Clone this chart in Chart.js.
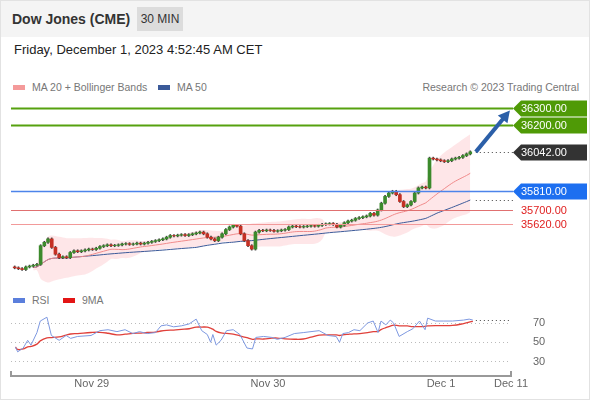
<!DOCTYPE html>
<html>
<head>
<meta charset="utf-8">
<script src="https://cdn.jsdelivr.net/npm/chart.js@4"></script>
<style>
  body { margin: 0; font-family: Arial, "Liberation Sans", sans-serif; }
  #wrap { position: relative; width: 588px; height: 398px; border: 1px solid #e2e2e2; background: #fff; overflow: hidden; }
  #head { position: absolute; left: 0; top: 0; width: 100%; height: 36px; background: #f4f4f4; }
  #title { position: absolute; left: 11px; top: 10px; font-weight: bold; font-size: 14px; color: #333; }
  #tf { position: absolute; left: 136px; top: 6px; width: 46px; height: 24px; line-height: 24px; text-align: center; background: #dcdcdc; font-size: 12px; color: #333; }
  #date { position: absolute; left: 13px; top: 41px; font-size: 13px; color: #222; }
  .leg { position: absolute; font-size: 10.5px; color: #777; }
  .sw { display: inline-block; width: 12px; height: 5px; margin-right: 7px; vertical-align: 1px; }
  canvas { position: absolute; left: 0; }
</style>
</head>
<body>
<div id="wrap">
  <div id="head"><div id="title">Dow Jones (CME)</div><div id="tf">30 MIN</div></div>
  <div id="date">Friday, December 1, 2023 4:52:45 AM CET</div>
  <div class="leg" style="left:12px;top:80px"><span class="sw" style="background:#f49a9a"></span>MA 20 + Bollinger Bands</div>
  <div class="leg" style="left:157px;top:80px"><span class="sw" style="background:#3b5a99"></span>MA 50</div>
  <div class="leg" style="right:10px;top:80px">Research © 2023 Trading Central</div>
  <div class="leg" style="left:12px;top:293px"><span class="sw" style="background:#5b7fdc"></span>RSI</div>
  <div class="leg" style="left:62px;top:293px"><span class="sw" style="background:#e31515"></span>9MA</div>
  <div style="position:absolute;left:0;top:90px;width:590px;height:195px"><canvas id="priceChart"></canvas></div>
  <div style="position:absolute;left:0;top:285px;width:590px;height:115px"><canvas id="rsiChart"></canvas></div>
</div>
<script>
const closes = [35360,35355,35350,35365,35370,35375,35380,35490,35510,35530,35480,35440,35420,35425,35420,35450,
  35460,35455,35460,35465,35470,35468,35475,35485,35490,35495,35490,35492,35495,35500,35502,35498,35500,35505,
  35500,35505,35510,35515,35520,35525,35530,35540,35550,35548,35552,35555,35550,35555,35560,35565,35570,35560,
  35540,35530,35520,35540,35560,35585,35600,35610,35605,35560,35520,35490,35470,35570,35580,35578,35582,35580,
  35575,35578,35582,35585,35600,35605,35602,35600,35603,35605,35608,35605,35610,35615,35618,35620,35615,35600,
  35610,35625,35635,35640,35650,35655,35660,35665,35680,35670,35700,35740,35780,35800,35810,35790,35750,35720,
  35730,35750,35800,35830,35835,35830,36005,36000,35995,35990,35985,35990,36000,36005,36010,36020,36030,36042];
const firstOpen = 35365;
const rsiX = [0.2,0.8,2.3,3.5,4.4,6,6.9,8.7,9.9,12,13.9,15.1,17,20.6,23,25.2,27.6,29.8,31.9,33.7,35.8,38,39.5,41,
  42.9,45,47.1,49,50.5,52,52.9,53.5,54.4,55.7,57.2,59,60.8,62.7,64.2,65.1,67.2,69.4,70.9,73,75.5,77.9,80,82.2,
  84.6,86.8,87.7,88.6,90.1,91.6,93.2,95.3,96.8,98.1,98.9,100.2,101.4,102.3,103.8,106,107.5,109.3,110.8,111.5,
  113.6,115.7,118.2,121.2,122.7,123.7];
const rsiValues = [45,40,44,52,47,60,72,76,57,52,57,54,56,57,62,63,61,63,59,61,59,60,67,68,66,67,69,74,62,58,50,
  58,47,52,62,63,58,44,43,55,56,55,53,55,59,60,61,62,57,56,50,59,60,63,62,70,72,60,72,68,73,70,56,61,64,72,63,
  75,72,72,72,73,74,73];
const rsiGrid = [30, 50, 70];
const levels = [
  { v: 36300, color: '#56a10f', box: '#4f9a06', w: 2 },
  { v: 36200, color: '#56a10f', box: '#4f9a06', w: 2 },
  { v: 36042, color: null, box: '#333333' },
  { v: 35810, color: '#4d84ea', box: '#1d6ff0', w: 1.5 },
  { v: 35700, color: '#e07070', box: null, w: 1 },
  { v: 35620, color: '#f29a9a', box: null, w: 1 },
];
const xTicks = [
  { v: 20.8, label: 'Nov 29' },
  { v: 68.4, label: 'Nov 30' },
  { v: 115.1, label: 'Dec 1' },
  { v: 134, label: 'Dec 11' },
];
const X_MIN = -1, X_MAX = 134;

// candles from closes: open is the previous close
const opens = closes.map((c, i) => i === 0 ? firstOpen : closes[i - 1]);
const bodies = closes.map((c, i) => ({ x: i, y: [opens[i], c === opens[i] ? c + 1.5 : c] }));
const wicks = closes.map((c, i) => ({ x: i, y: [Math.min(opens[i], c) - 6, Math.max(opens[i], c) + 6] }));
const candleColors = closes.map((c, i) => c >= opens[i] ? '#3c8a2c' : '#c43024');

function movingAvg(arr, n) {
  return arr.map((v, i) => {
    const s = arr.slice(Math.max(0, i - n + 1), i + 1);
    return s.reduce((a, b) => a + b, 0) / s.length;
  });
}
const ma20 = movingAvg(closes, 20);
const ma50 = movingAvg(closes, 50);
const sd20 = closes.map((v, i) => {
  const s = closes.slice(Math.max(0, i - 19), i + 1);
  const m = ma20[i];
  return Math.sqrt(s.reduce((a, b) => a + (b - m) * (b - m), 0) / s.length);
});
const startBand = 5;
const pts = arr => arr.map((v, i) => ({ x: i, y: v })).slice(startBand);
const upper = pts(ma20.map((m, i) => m + 2 * sd20[i]));
const lower = pts(ma20.map((m, i) => m - 2 * sd20[i]));
const rsiMa = movingAvg(rsiValues, 9);

const overlay = {
  id: 'overlay',
  afterDatasetsDraw(chart) {
    const { ctx, chartArea: a, scales: { x, y } } = chart;
    ctx.save();
    levels.forEach(l => {
      const py = Math.round(y.getPixelForValue(l.v)) + 0.5;
      if (l.color) {
        ctx.strokeStyle = l.color; ctx.lineWidth = l.w;
        ctx.beginPath(); ctx.moveTo(a.left, py); ctx.lineTo(a.right + 2, py); ctx.stroke();
      }
      ctx.font = '11px Arial';
      ctx.textBaseline = 'middle';
      if (l.box) {
        const bx = a.right + 2;
        ctx.fillStyle = l.box;
        ctx.beginPath();
        ctx.moveTo(bx, py); ctx.lineTo(bx + 8, py - 8); ctx.lineTo(586, py - 8);
        ctx.lineTo(586, py + 8); ctx.lineTo(bx + 8, py + 8); ctx.closePath(); ctx.fill();
        ctx.fillStyle = '#fff';
      } else {
        ctx.fillStyle = '#e02020';
      }
      ctx.fillText(l.v.toFixed(2), a.right + 10, py + 0.5);
    });
    // dotted leaders from last close and last MA50
    ctx.strokeStyle = '#444'; ctx.lineWidth = 1; ctx.setLineDash([1, 3]);
    [closes[closes.length - 1], ma50[ma50.length - 1]].forEach(v => {
      const py = Math.round(y.getPixelForValue(v)) + 0.5;
      ctx.beginPath(); ctx.moveTo(x.getPixelForValue(closes.length + 0.5), py); ctx.lineTo(a.right + 2, py); ctx.stroke();
    });
    ctx.setLineDash([]);
    // forecast arrow
    const x0 = x.getPixelForValue(closes.length + 0.5), y0 = y.getPixelForValue(36042);
    const x1 = x.getPixelForValue(X_MAX - 0.3), y1 = y.getPixelForValue(36285);
    const ang = Math.atan2(y1 - y0, x1 - x0);
    ctx.strokeStyle = '#2b5fa8'; ctx.fillStyle = '#2b5fa8'; ctx.lineWidth = 4;
    ctx.beginPath(); ctx.moveTo(x0, y0);
    ctx.lineTo(x1 - 8 * Math.cos(ang), y1 - 8 * Math.sin(ang)); ctx.stroke();
    ctx.beginPath(); ctx.moveTo(x1, y1);
    ctx.lineTo(x1 - 13 * Math.cos(ang - 0.5), y1 - 13 * Math.sin(ang - 0.5));
    ctx.lineTo(x1 - 13 * Math.cos(ang + 0.5), y1 - 13 * Math.sin(ang + 0.5));
    ctx.closePath(); ctx.fill();
    ctx.restore();
  }
};

new Chart(document.getElementById('priceChart'), {
  data: {
    datasets: [
      { type: 'line', data: upper, borderWidth: 0, pointRadius: 0, fill: '+1', backgroundColor: 'rgba(252,190,195,0.38)', tension: 0.3, order: 5 },
      { type: 'line', data: lower, borderWidth: 0, pointRadius: 0, fill: false, tension: 0.3, order: 5 },
      { type: 'line', data: pts(ma20), borderColor: '#f08a8a', borderWidth: 1, pointRadius: 0, tension: 0.3, order: 4 },
      { type: 'line', data: ma50.map((v, i) => ({ x: i, y: v })).slice(startBand), borderColor: '#3b5a99', borderWidth: 1, pointRadius: 0, tension: 0.3, order: 4 },
      { type: 'bar', data: wicks, backgroundColor: '#444', barThickness: 1, grouped: false, order: 3 },
      { type: 'bar', data: bodies, backgroundColor: candleColors, barThickness: 3, grouped: false, order: 2 },
    ],
  },
  options: {
    responsive: true,
    maintainAspectRatio: false,
    animation: false,
    layout: { padding: { left: 10, right: 80, top: 0, bottom: 0 } },
    plugins: { legend: { display: false }, tooltip: { enabled: false } },
    scales: {
      x: { type: 'linear', min: X_MIN, max: X_MAX, offset: false, display: false },
      y: { min: 35253, max: 36400, display: false },
    },
  },
  plugins: [overlay],
});

const rsiExtras = {
  id: 'rsiExtras',
  beforeDatasetsDraw(chart) {
    const { ctx, chartArea: a, scales: { y } } = chart;
    ctx.save();
    ctx.strokeStyle = '#bbb'; ctx.lineWidth = 1; ctx.setLineDash([1, 3]);
    rsiGrid.forEach(v => {
      const py = Math.round(y.getPixelForValue(v)) + 0.5;
      ctx.beginPath(); ctx.moveTo(a.left, py); ctx.lineTo(a.right, py); ctx.stroke();
    });
    ctx.restore();
  },
  afterDatasetsDraw(chart) {
    const { ctx, chartArea: a, scales: { x, y } } = chart;
    ctx.save();
    ctx.strokeStyle = '#444'; ctx.lineWidth = 1; ctx.setLineDash([1, 3]);
    const py = Math.round(y.getPixelForValue(rsiValues[rsiValues.length - 1])) + 0.5;
    ctx.beginPath(); ctx.moveTo(x.getPixelForValue(rsiX[rsiX.length - 1]) + 3, py); ctx.lineTo(a.right, py); ctx.stroke();
    ctx.setLineDash([]);
    ctx.strokeStyle = '#999'; ctx.lineWidth = 2;
    const by = a.bottom + 2;
    ctx.beginPath();
    ctx.moveTo(a.left, by - 5); ctx.lineTo(a.left, by); ctx.lineTo(a.right, by); ctx.lineTo(a.right, by - 5);
    ctx.stroke();
    ctx.restore();
  }
};

new Chart(document.getElementById('rsiChart'), {
  type: 'line',
  data: {
    datasets: [
      { data: rsiX.map((v, i) => ({ x: v, y: rsiValues[i] })), borderColor: '#7d98e0', borderWidth: 1, pointRadius: 0 },
      { data: rsiX.map((v, i) => ({ x: v, y: rsiMa[i] })), borderColor: '#e0403a', borderWidth: 1.3, pointRadius: 0, tension: 0.4 },
    ],
  },
  options: {
    responsive: true,
    maintainAspectRatio: false,
    animation: false,
    layout: { padding: { left: 10, right: 0, top: 0, bottom: 0 } },
    plugins: { legend: { display: false }, tooltip: { enabled: false } },
    scales: {
      x: {
        type: 'linear', min: X_MIN, max: X_MAX,
        afterBuildTicks: s => { s.ticks = xTicks.map(t => ({ value: t.v })); },
        afterFit: s => { s.height = 27; },
        grid: { display: false, tickLength: 0 },
        border: { display: false },
        ticks: {
          autoSkip: false, maxRotation: 0, color: '#666', font: { size: 11, family: 'Arial' }, padding: 3,
          callback: v => (xTicks.find(t => t.v === v) || {}).label,
        },
      },
      y: {
        position: 'right', min: 17, max: 87,
        afterBuildTicks: s => { s.ticks = rsiGrid.map(v => ({ value: v })); },
        afterFit: s => { s.width = 80; },
        border: { display: false },
        grid: { display: false },
        ticks: { color: '#666', font: { size: 11, family: 'Arial' }, padding: 14 },
      },
    },
  },
  plugins: [rsiExtras],
});
</script>
</body>
</html>
